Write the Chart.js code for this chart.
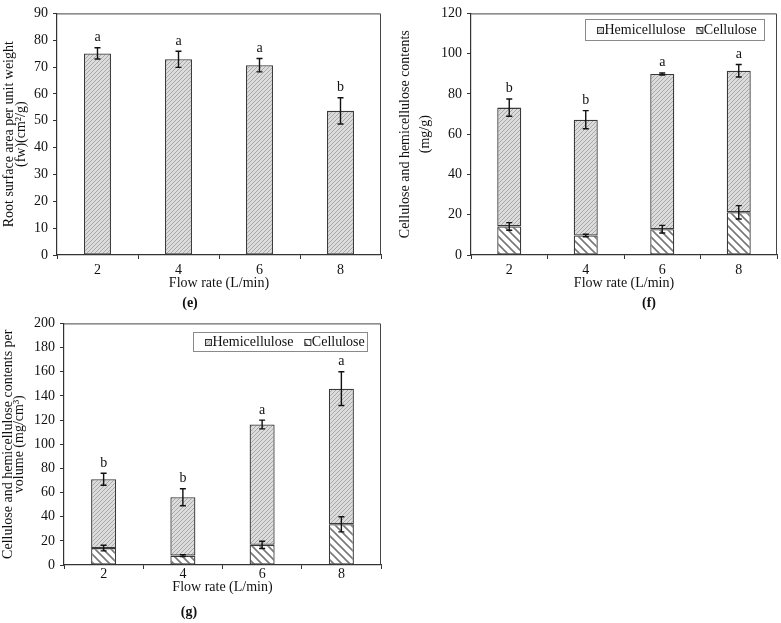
<!DOCTYPE html>
<html><head><meta charset="utf-8">
<script src="https://cdn.jsdelivr.net/npm/chart.js@4.4.1/dist/chart.umd.min.js"></script>
<style>
html,body{margin:0;padding:0;background:#fff;}
body{width:781px;height:623px;position:relative;overflow:hidden;}
.p{position:absolute;}
</style></head><body>
<div class="p" style="left:0;top:0;"><canvas id="ce" width="390" height="320"></canvas></div>
<div class="p" style="left:390px;top:0;"><canvas id="cf" width="391" height="320"></canvas></div>
<div class="p" style="left:0;top:310px;"><canvas id="cg" width="390" height="313"></canvas></div>
<script>
// ---- data ----
const flowRates = ['2', '4', '6', '8'];

const rootArea = [75.1, 72.9, 70.7, 53.7];
const rootAreaErr = [2.1, 3.0, 2.5, 4.9];
const rootAreaLetters = ['a', 'a', 'a', 'b'];

const celluloseF = [14.2, 9.7, 12.8, 21.2];
const celluloseFErr = [1.9, 0.6, 1.9, 3.3];
const totalF = [73.2, 67.2, 89.9, 91.5];
const totalFErr = [4.3, 4.5, 0.5, 3.1];
const lettersF = ['b', 'b', 'a', 'a'];

const celluloseG = [14.0, 7.8, 16.7, 33.7];
const celluloseGErr = [2.3, 0.8, 3.0, 6.3];
const totalG = [71.0, 56.1, 116.3, 146.0];
const totalGErr = [5.0, 7.0, 3.6, 14.0];
const lettersG = ['b', 'b', 'a', 'a'];

// ---- styling ----
const FONT = "'Liberation Serif','Times New Roman',serif";
Chart.defaults.font.family = FONT;
Chart.defaults.color = '#111';

function hatch(kind) {
  const c = document.createElement('canvas');
  const s = kind === 'fine' ? 4 : 8;
  c.width = s; c.height = s;
  const g = c.getContext('2d');
  if (kind === 'fine') {
    g.fillStyle = '#dcdcdc'; g.fillRect(0, 0, s, s);
    g.strokeStyle = '#a2a2a2'; g.lineWidth = 0.9;
    g.beginPath();
    g.moveTo(-1, s + 1); g.lineTo(s + 1, -1);
    g.moveTo(-1, 1); g.lineTo(1, -1);
    g.moveTo(s - 1, s + 1); g.lineTo(s + 1, s - 1);
    g.stroke();
  } else {
    g.fillStyle = '#fff'; g.fillRect(0, 0, s, s);
    g.strokeStyle = '#777'; g.lineWidth = 1.6;
    g.beginPath();
    g.moveTo(-1, -1); g.lineTo(s + 1, s + 1);
    g.moveTo(s - 1, -1); g.lineTo(s + 1, 1);
    g.moveTo(-1, s - 1); g.lineTo(1, s + 1);
    g.stroke();
  }
  return document.createElement('canvas').getContext('2d').createPattern(c, 'repeat');
}
const HEMI = hatch('fine');
const CELL = hatch('coarse');
const LINE = '#333';

function build(id, o) {
  const plug = {
    id: 'extras',
    beforeDatasetsDraw(chart) {
      const a = chart.chartArea, ctx = chart.ctx;
      ctx.save();
      ctx.strokeStyle = '#444'; ctx.lineWidth = 1;
      ctx.beginPath();
      ctx.moveTo(a.left, a.top + 0.5); ctx.lineTo(a.right - 0.5, a.top + 0.5); ctx.lineTo(a.right - 0.5, a.bottom);
      ctx.stroke();
      ctx.restore();
    },
    afterDatasetsDraw(chart) {
      const ctx = chart.ctx, y = chart.scales.y;
      ctx.save();
      ctx.strokeStyle = '#111'; ctx.lineWidth = 1.4;
      o.errs.forEach(e => {
        const meta = chart.getDatasetMeta(e.ds);
        meta.data.forEach((bar, i) => {
          const x = bar.x;
          const yt = y.getPixelForValue(e.v[i] + e.err[i]);
          const yb = y.getPixelForValue(e.v[i] - e.err[i]);
          ctx.beginPath();
          ctx.moveTo(x, yt); ctx.lineTo(x, yb);
          ctx.moveTo(x - 3, yt); ctx.lineTo(x + 3, yt);
          ctx.moveTo(x - 3, yb); ctx.lineTo(x + 3, yb);
          ctx.stroke();
        });
      });
      // significance letters
      ctx.fillStyle = '#111';
      ctx.font = '14px ' + FONT;
      ctx.textAlign = 'center'; ctx.textBaseline = 'alphabetic';
      const topMeta = chart.getDatasetMeta(o.letterDs);
      topMeta.data.forEach((bar, i) => {
        const yt = y.getPixelForValue(o.letterV[i] + o.letterErr[i]);
        ctx.fillText(o.letters[i], bar.x, yt - 6.5);
      });
      ctx.restore();
    },
    afterDraw(chart) {
      const ctx = chart.ctx;
      ctx.save();
      if (o.legend) {
        const L = o.legend;
        ctx.strokeStyle = '#8a8a8a'; ctx.lineWidth = 1;
        ctx.strokeRect(L.x + 0.5, L.y + 0.5, L.w, L.h);
        ctx.font = '14px ' + FONT;
        ctx.textBaseline = 'middle'; ctx.textAlign = 'left';
        ctx.fillStyle = '#111';
        let x = L.x + 12;
        const cy = L.y + L.h / 2 + 1;
        L.items.forEach(it => {
          ctx.fillStyle = it.fill;
          ctx.fillRect(x, cy - 3.5, 6, 6);
          ctx.strokeStyle = '#333';
          ctx.strokeRect(x + 0.5, cy - 3, 6, 6);
          x += 7.5;
          ctx.fillStyle = '#111';
          ctx.fillText(it.text, x, cy);
          x += ctx.measureText(it.text).width + 11;
        });
      }
      ctx.font = 'bold 14px ' + FONT;
      ctx.fillStyle = '#111';
      ctx.textAlign = 'center'; ctx.textBaseline = 'middle';
      ctx.fillText(o.panel, o.panelX, o.panelY);
      ctx.restore();
    }
  };
  return new Chart(document.getElementById(id), {
    type: 'bar',
    data: { labels: flowRates, datasets: o.datasets },
    options: {
      responsive: false, animation: false,
      layout: { padding: { left: 0, top: 8, right: o.padRight, bottom: 0 } },
      plugins: { legend: { display: false }, tooltip: { enabled: false } },
      scales: {
        x: {
          stacked: true,
          afterFit(s) { s.height = o.xHeight; },
          grid: { offset: true, drawOnChartArea: false, drawTicks: true, tickLength: 4, color: LINE },
          border: { color: LINE, width: 1.2 },
          ticks: { font: { size: 14 }, padding: o.xTickPad, color: '#111', maxRotation: 0 },
          title: { display: true, text: 'Flow rate (L/min)', font: { size: 14 }, padding: { top: 0, bottom: o.xTitlePad }, color: '#111' }
        },
        y: {
          stacked: true, min: 0, max: o.ymax,
          afterFit(s) { s.width = o.yWidth; },
          ticks: { stepSize: o.step, font: { size: 14 }, padding: 5, color: '#111' },
          grid: { drawOnChartArea: false, tickLength: 4, color: LINE },
          border: { color: LINE, width: 1.2 },
          title: { display: true, text: o.ytitle, font: { size: 14, lineHeight: o.ylh }, padding: { top: o.yTitlePad, bottom: 0 }, color: '#111' }
        }
      }
    },
    plugins: [plug]
  });
}

const barStyle = { borderColor: '#3a3a3a', borderWidth: 1.3, borderSkipped: false, categoryPercentage: 1 };

// (e)
build('ce', {
  datasets: [Object.assign({ label: 'Root surface area', data: rootArea, backgroundColor: HEMI, barPercentage: 0.333 }, barStyle)],
  errs: [{ ds: 0, v: rootArea, err: rootAreaErr }],
  letterDs: 0, letterV: rootArea, letterErr: rootAreaErr, letters: rootAreaLetters,
  ymax: 90, step: 10, yWidth: 57, padRight: 9, xHeight: 65, xTickPad: 3, xTitlePad: 28.5,
  ytitle: ['Root surface area per unit weight', '(fw)(cm\u00b2/g)'], ylh: 0.82, yTitlePad: 4,
  panel: '(e)', panelX: 190, panelY: 303
});

// (f)
build('cf', {
  datasets: [
    Object.assign({ label: 'Cellulose', data: celluloseF, backgroundColor: CELL, barPercentage: 0.314 }, barStyle),
    Object.assign({ label: 'Hemicellulose', data: totalF.map((t, i) => t - celluloseF[i]), backgroundColor: HEMI, barPercentage: 0.314 }, barStyle)
  ],
  errs: [{ ds: 0, v: celluloseF, err: celluloseFErr }, { ds: 1, v: totalF, err: totalFErr }],
  letterDs: 1, letterV: totalF, letterErr: totalFErr, letters: lettersF,
  ymax: 120, step: 20, yWidth: 81, padRight: 4, xHeight: 65, xTickPad: 3, xTitlePad: 28.5,
  ytitle: ['Cellulose and hemicellulose contents', '(mg/g)'], ylh: 1.46, yTitlePad: 4.8,
  legend: { x: 195, y: 19, w: 179, h: 21, items: [{ text: 'Hemicellulose', fill: HEMI }, { text: 'Cellulose', fill: CELL }] },
  panel: '(f)', panelX: 259, panelY: 303
});

// (g)
build('cg', {
  datasets: [
    Object.assign({ label: 'Cellulose', data: celluloseG, backgroundColor: CELL, barPercentage: 0.316 }, barStyle),
    Object.assign({ label: 'Hemicellulose', data: totalG.map((t, i) => t - celluloseG[i]), backgroundColor: HEMI, barPercentage: 0.316 }, barStyle)
  ],
  errs: [{ ds: 0, v: celluloseG, err: celluloseGErr }, { ds: 1, v: totalG, err: totalGErr }],
  letterDs: 1, letterV: totalG, letterErr: totalGErr, letters: lettersG,
  ymax: 200, step: 20, yWidth: 64, padRight: 9, xHeight: 58, xTickPad: -3, xTitlePad: 27.5,
  ytitle: ['Cellulose and hemicellulose contents per', 'volume (mg/cm\u00b3)'], ylh: 0.79, yTitlePad: 3.2,
  legend: { x: 193, y: 22, w: 174, h: 19, items: [{ text: 'Hemicellulose', fill: HEMI }, { text: 'Cellulose', fill: CELL }] },
  panel: '(g)', panelX: 189, panelY: 302
});
</script>
</body></html>
